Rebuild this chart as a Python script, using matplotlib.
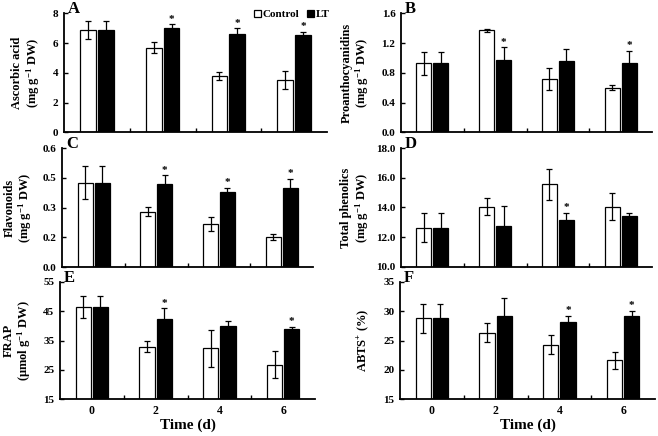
import matplotlib
matplotlib.use("Agg")
import matplotlib.pyplot as plt
import numpy as np
from matplotlib.patches import Patch

plt.rcParams['font.family'] = ['Liberation Serif', 'DejaVu Serif']
plt.rcParams['font.weight'] = 'bold'
plt.rcParams['mathtext.fontset'] = 'custom'
plt.rcParams['mathtext.rm'] = 'Liberation Serif:bold'
plt.rcParams['mathtext.it'] = 'Liberation Serif:italic:bold'
plt.rcParams['mathtext.bf'] = 'Liberation Serif:bold'

days = ['0', '2', '4', '6']

asa_ctrl = [6.87, 5.68, 3.80, 3.51]
asa_ctrl_err = [0.63, 0.36, 0.27, 0.63]
asa_lt = [6.87, 6.98, 6.64, 6.53]
asa_lt_err = [0.63, 0.27, 0.34, 0.22]
asa_sig = [False, True, True, True]

pa_ctrl = [0.927, 1.375, 0.72, 0.60]
pa_ctrl_err = [0.156, 0.02, 0.145, 0.03]
pa_lt = [0.927, 0.972, 0.962, 0.927]
pa_lt_err = [0.156, 0.17, 0.153, 0.165]
pa_sig = [False, True, False, True]

fl_ctrl = [0.427, 0.28, 0.218, 0.152]
fl_ctrl_err = [0.085, 0.023, 0.035, 0.017]
fl_lt = [0.427, 0.418, 0.377, 0.397]
fl_lt_err = [0.085, 0.045, 0.022, 0.05]
fl_sig = [False, True, True, True]

tp_ctrl = [12.64, 14.05, 15.57, 14.05]
tp_ctrl_err = [0.97, 0.57, 1.06, 0.9]
tp_lt = [12.64, 12.75, 13.15, 13.45]
tp_lt_err = [0.97, 1.38, 0.49, 0.16]
tp_sig = [False, False, True, False]

frap_ctrl = [46.4, 32.9, 32.3, 26.8]
frap_ctrl_err = [3.7, 1.8, 6.3, 4.5]
frap_lt = [46.4, 42.4, 40.0, 39.05]
frap_lt_err = [3.7, 3.5, 1.8, 0.7]
frap_sig = [False, True, False, True]

abts_ctrl = [28.76, 26.3, 24.27, 21.6]
abts_ctrl_err = [2.5, 1.6, 1.6, 1.5]
abts_lt = [28.76, 29.1, 28.1, 29.1]
abts_lt_err = [2.5, 3.1, 1.1, 1.0]
abts_sig = [False, False, True, True]

panels = [
    dict(letter='A', ctrl=asa_ctrl, ce=asa_ctrl_err, lt=asa_lt, le=asa_lt_err, sig=asa_sig,
         ticks=[0, 2, 4, 6, 8], labels=['0', '2', '4', '6', '8'],
         ylabel='Ascorbic acid\n(mg g$^{-1}$ DW)', rect=[64, 13.3, 327, 132.3], lx=-0.084),
    dict(letter='B', ctrl=pa_ctrl, ce=pa_ctrl_err, lt=pa_lt, le=pa_lt_err, sig=pa_sig,
         ticks=[0, 0.4, 0.8, 1.2, 1.6], labels=['0.0', '0.4', '0.8', '1.2', '1.6'],
         ylabel='Proanthocyanidins\n(mg g$^{-1}$ DW)', rect=[401, 13.3, 652, 132.3], lx=-0.119),
    dict(letter='C', ctrl=fl_ctrl, ce=fl_ctrl_err, lt=fl_lt, le=fl_lt_err, sig=fl_sig,
         ticks=[0, 0.15, 0.3, 0.45, 0.6], labels=['0.0', '0.2', '0.3', '0.5', '0.6'],
         ylabel='Flavonoids\n(mg g$^{-1}$ DW)', rect=[62.3, 148.3, 313, 267], lx=-0.112),
    dict(letter='D', ctrl=tp_ctrl, ce=tp_ctrl_err, lt=tp_lt, le=tp_lt_err, sig=tp_sig,
         ticks=[10, 12, 14, 16, 18], labels=['10.0', '12.0', '14.0', '16.0', '18.0'],
         ylabel='Total phenolics\n(mg g$^{-1}$ DW)', rect=[401, 148.3, 652, 266.7], lx=-0.119),
    dict(letter='E', ctrl=frap_ctrl, ce=frap_ctrl_err, lt=frap_lt, le=frap_lt_err, sig=frap_sig,
         ticks=[15, 25, 35, 45, 55], labels=['15', '25', '35', '45', '55'],
         ylabel='FRAP\n(μmol g$^{-1}$ DW)', rect=[60, 281.7, 315, 399.3], lx=-0.105),
    dict(letter='F', ctrl=abts_ctrl, ce=abts_ctrl_err, lt=abts_lt, le=abts_lt_err, sig=abts_sig,
         ticks=[15, 20, 25, 30, 35], labels=['15', '20', '25', '30', '35'],
         ylabel='ABTS$^{+}$ (%)', rect=[400, 281.7, 655, 399.3], lx=-0.113),
]

W, H = 658, 436
fig = plt.figure(figsize=(W / 100, H / 100), dpi=100)

x = np.arange(len(days)) + 0.5
bw = 0.24
off = 0.135

for i, p in enumerate(panels):
    l, t, r, b = p['rect']
    ax = fig.add_axes([l / W, 1 - b / H, (r - l) / W, (b - t) / H])
    ax.bar(x - off, p['ctrl'], bw, color='white', edgecolor='black', linewidth=0.9, zorder=2)
    ax.bar(x + off, p['lt'], bw, color='black', edgecolor='black', linewidth=0.9, zorder=2)
    ax.errorbar(x - off, p['ctrl'], yerr=p['ce'], fmt='none', ecolor='black', elinewidth=0.9,
                capsize=2.3, capthick=0.9, zorder=3)
    ax.errorbar(x + off, p['lt'], yerr=p['le'], fmt='none', ecolor='black', elinewidth=0.9,
                capsize=2.3, capthick=0.9, zorder=3)
    for xi, v, e, s in zip(x + off, p['lt'], p['le'], p['sig']):
        if s:
            ax.annotate('*', (xi, v + e), xytext=(0, 0.5), textcoords='offset points',
                        ha='center', va='bottom', fontsize=8, fontweight='bold')
    ax.set_xlim(0, 4)
    ax.set_ylim(p['ticks'][0], p['ticks'][-1])
    ax.set_yticks(p['ticks'])
    ax.set_yticklabels(p['labels'], fontsize=8, fontweight='bold')
    ax.set_xticks([1, 2, 3], minor=True)
    ax.set_xticks(x)
    if i >= 4:
        ax.set_xticklabels(days, fontsize=8.5, fontweight='bold')
        ax.set_xlabel('Time (d)', fontsize=11, fontweight='bold', labelpad=1)
    else:
        ax.set_xticklabels([])
    ax.tick_params(axis='x', which='major', length=0, pad=4)
    ax.tick_params(axis='x', which='minor', direction='in', length=3, width=1)
    ax.tick_params(axis='y', direction='in', length=3, width=1, pad=4)
    for sp in ['top', 'right']:
        ax.spines[sp].set_visible(False)
    for sp in ['left', 'bottom']:
        ax.spines[sp].set_linewidth(1.3)
    ax.set_ylabel(p['ylabel'], fontsize=9, fontweight='bold', linespacing=1.1)
    ax.yaxis.set_label_coords(p['lx'], 0.5)
    ax.text(0.015, 1.0, p['letter'], transform=ax.transAxes, fontsize=12, fontweight='bold',
            ha='left', va='baseline')
    if i == 0:
        handles = [Patch(facecolor='white', edgecolor='black', linewidth=0.9),
                   Patch(facecolor='black', edgecolor='black', linewidth=0.9)]
        ax.legend(handles, ['Control', 'LT'], loc='center right', bbox_to_anchor=(1.01, 0.99),
                  ncol=2, frameon=False, handlelength=0.6, handleheight=0.6, handletextpad=0.15,
                  columnspacing=0.7, borderpad=0, borderaxespad=0,
                  prop={'family': 'Liberation Serif', 'weight': 'bold', 'size': 8})

fig.savefig('out.png', dpi=100)
